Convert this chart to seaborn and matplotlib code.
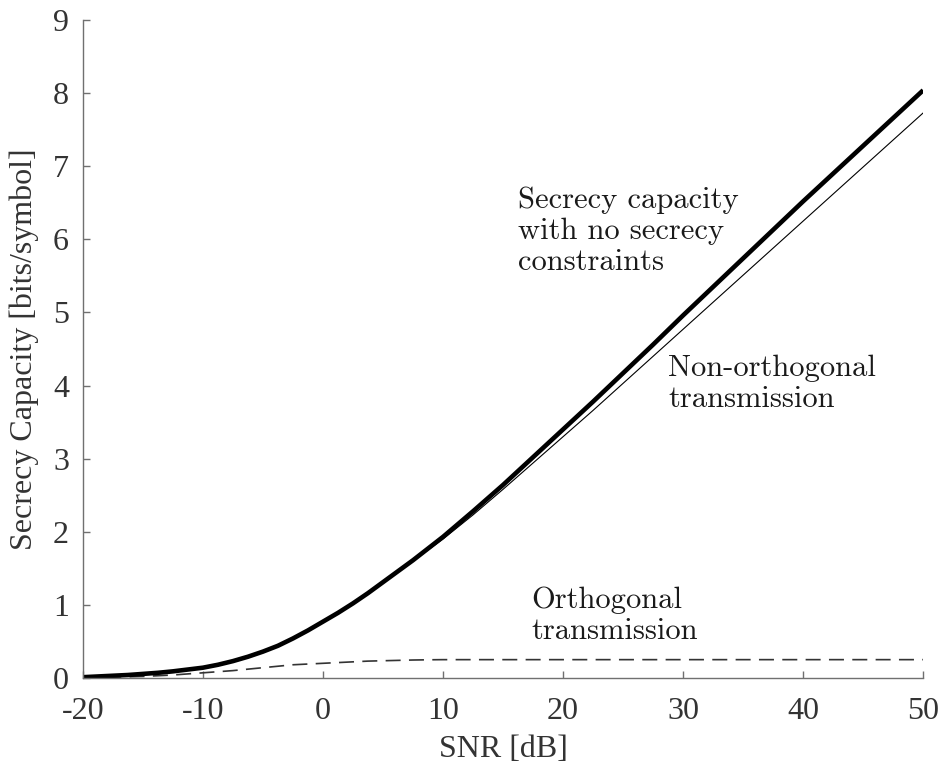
import pandas as pd
import matplotlib
matplotlib.use("Agg")
import matplotlib.pyplot as plt
import seaborn as sns

# SNR grid in dB (finer where the curves bend)
snr_db = [-20, -18.75, -17.5, -16.25, -15, -13.75, -12.5, -11.25, -10,
          -8.75, -7.5, -6.25, -5, -3.75, -2.5, -1.25, 0, 1.25, 2.5, 3.75,
          5, 6.25, 7.5, 8.75, 10, 12.5, 15, 17.5, 20, 22.5, 25, 27.5, 30,
          32.5, 35, 37.5, 40, 42.5, 45, 47.5, 50]

# Secrecy capacity with no secrecy constraints (thick)
cap_no_constraint = [0.01, 0.02, 0.03, 0.04, 0.055, 0.07, 0.09, 0.115, 0.14,
                     0.18, 0.23, 0.29, 0.36, 0.44, 0.54, 0.65, 0.77, 0.89,
                     1.02, 1.16, 1.31, 1.46, 1.61, 1.77, 1.93, 2.28, 2.64,
                     3.02, 3.40, 3.78, 4.17, 4.56, 4.96, 5.35, 5.74, 6.13,
                     6.52, 6.90, 7.28, 7.66, 8.04]

# Non-orthogonal transmission (thin)
cap_non_orthogonal = [0.01, 0.02, 0.03, 0.04, 0.055, 0.07, 0.09, 0.115, 0.14,
                      0.18, 0.23, 0.29, 0.36, 0.44, 0.54, 0.65, 0.77, 0.89,
                      1.02, 1.16, 1.30, 1.45, 1.60, 1.75, 1.90, 2.23, 2.58,
                      2.94, 3.30, 3.66, 4.03, 4.40, 4.77, 5.14, 5.51, 5.88,
                      6.25, 6.62, 6.99, 7.36, 7.73]

# Orthogonal transmission (dashed)
cap_orthogonal = [0.0, 0.005, 0.01, 0.015, 0.02, 0.03, 0.04, 0.055, 0.07,
                  0.085, 0.10, 0.12, 0.14, 0.16, 0.18, 0.19, 0.20, 0.21,
                  0.22, 0.23, 0.235, 0.24, 0.245, 0.248, 0.25, 0.25, 0.25,
                  0.25, 0.25, 0.25, 0.25, 0.25, 0.25, 0.25, 0.25, 0.25,
                  0.25, 0.25, 0.25, 0.25, 0.25]

x_ticks = [-20, -10, 0, 10, 20, 30, 40, 50]
y_ticks = [0, 1, 2, 3, 4, 5, 6, 7, 8, 9]

df = pd.DataFrame({
    "snr": snr_db,
    "none": cap_no_constraint,
    "nonorth": cap_non_orthogonal,
    "orth": cap_orthogonal,
})

sns.set_style("ticks")
plt.rcParams["font.family"] = ["Liberation Serif", "DejaVu Serif"]
plt.rcParams["axes.unicode_minus"] = False

fig = plt.figure(figsize=(9.42, 7.73), dpi=100)
ax = fig.add_axes([0.088, 0.123, 0.892, 0.851])

sns.lineplot(data=df, x="snr", y="orth", ax=ax, color="#333333",
             linewidth=1.2, linestyle=(0, (9, 5)))
sns.lineplot(data=df, x="snr", y="nonorth", ax=ax, color="black",
             linewidth=0.8)
sns.lineplot(data=df, x="snr", y="none", ax=ax, color="black",
             linewidth=3.3, solid_capstyle="butt", solid_joinstyle="round")

ax.set_xlim(-20, 50)
ax.set_ylim(0, 9)
ax.set_xticks(x_ticks)
ax.set_yticks(y_ticks)
ax.set_xticklabels([str(t) for t in x_ticks])
ax.set_yticklabels([str(t) for t in y_ticks])

for side in ("top", "right"):
    ax.spines[side].set_visible(False)
for side in ("left", "bottom"):
    ax.spines[side].set_color("#707070")
    ax.spines[side].set_linewidth(1.0)

ax.tick_params(axis="both", direction="in", length=5, width=1.0,
               color="#707070", labelsize=23, labelcolor="#333333")
ax.tick_params(axis="x", pad=14)
ax.tick_params(axis="y", pad=10)

ax.set_xlabel("SNR [dB]", fontsize=23, color="#333333", labelpad=6)
ax.set_ylabel("Secrecy Capacity [bits/symbol]", fontsize=23,
              color="#333333", labelpad=10)

note_kw = dict(fontsize=22, family=["cmr10", "DejaVu Serif"], color="#1a1a1a",
               ha="left", va="top", linespacing=1.17)
ax.text(16.25, 6.72, "Secrecy capacity\nwith no secrecy\nconstraints", **note_kw)
ax.text(28.75, 4.42, "Non-orthogonal\ntransmission", **note_kw)
ax.text(17.33, 1.25, "Orthogonal\ntransmission", **note_kw)

fig.savefig("out.png", dpi=100)
